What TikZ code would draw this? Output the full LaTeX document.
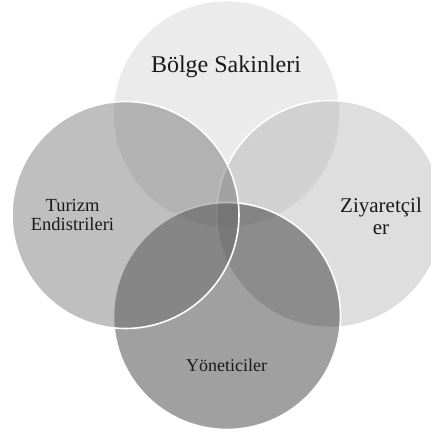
\documentclass[tikz,border=0pt]{standalone}
\usepackage{fontspec}
\setmainfont{Liberation Serif}
\definecolor{ctop}{gray}{0.80}
\definecolor{cright}{gray}{0.675}
\definecolor{cbottom}{gray}{0.07}
\definecolor{cleft}{gray}{0.37}
\begin{document}
\begin{tikzpicture}[x=1pt,y=-1pt,
  circ/.style={circle, inner sep=0pt, minimum size=227pt, draw=white, line width=1.6pt, fill opacity=0.4, draw opacity=1},
  lbl/.style={align=center, text=black!90, inner sep=0pt}]
\useasboundingbox (0,0) rectangle (430,435);
\node[circ, fill=ctop] (top) at (226.5,114) {};
\node[circ, fill=cright] (right) at (330,214) {};
\node[circ, fill=cbottom] (bottom) at (227,316) {};
\node[circ, fill=cleft] (left) at (125.5,215) {};
\node[lbl, font=\fontsize{24}{26}\selectfont] (ttop) at (226,67) {Bölge Sakinleri};
\node[lbl, font=\fontsize{18.5}{19}\selectfont] (tleft) at (72.5,215) {Turizm\\Endistrileri};
\node[lbl, font=\fontsize{21}{22}\selectfont] (tright) at (381,216) {Ziyaretçil\\er};
\node[lbl, font=\fontsize{18}{20}\selectfont] (tbottom) at (226.5,365) {Yöneticiler};
\end{tikzpicture}
\end{document}
